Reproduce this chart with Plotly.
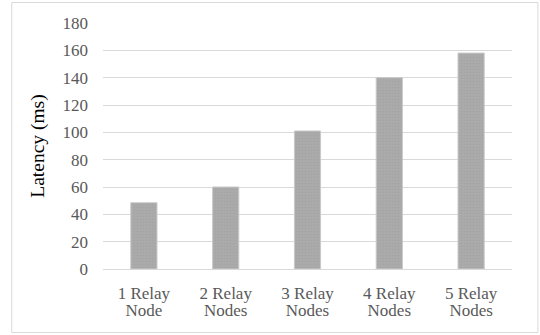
import plotly.graph_objects as go

categories = ["1 Relay Node", "2 Relay Nodes", "3 Relay Nodes", "4 Relay Nodes", "5 Relay Nodes"]
label_line1 = ["1 Relay", "2 Relay", "3 Relay", "4 Relay", "5 Relay"]
label_line2 = ["Node", "Nodes", "Nodes", "Nodes", "Nodes"]
latency_ms = [48.5, 60, 101, 140, 158]
y_ticks = [0, 20, 40, 60, 80, 100, 120, 140, 160, 180]

FONT = "Liberation Serif"
TICK_FONT = dict(family=FONT, size=17, color="#595959")

fig = go.Figure()
fig.add_trace(
    go.Bar(
        x=categories,
        y=latency_ms,
        marker=dict(
            color="#a6a6a6",
            line=dict(color="#c9c9c9", width=1),
            pattern=dict(shape=".", bgcolor="#aaaaaa", fgcolor="#9e9e9e", size=3, solidity=0.25),
        ),
        width=0.32,
        xaxis="x",
    )
)
# invisible twin so the second label row has an axis to live on
fig.add_trace(
    go.Bar(
        x=categories,
        y=latency_ms,
        opacity=0,
        hoverinfo="skip",
        width=0.32,
        xaxis="x2",
    )
)

# target plot area in window pixels: x 102.5..512.5, y 23..269
FW, FH = 540, 335
L, R, T, B = 102.5, 512.5, 23, 269

fig.update_layout(
    width=FW,
    height=FH,
    margin=dict(l=L, r=FW - R, t=T, b=FH - B, autoexpand=False),
    paper_bgcolor="white",
    plot_bgcolor="white",
    showlegend=False,
    barmode="overlay",
    font=dict(family=FONT, size=17, color="#595959"),
    xaxis=dict(
        type="category",
        categoryarray=categories,
        tickvals=categories,
        ticktext=label_line1,
        showgrid=False,
        showline=False,
        ticks="",
        ticklabelstandoff=12,
        tickfont=TICK_FONT,
    ),
    xaxis2=dict(
        type="category",
        categoryarray=categories,
        tickvals=categories,
        ticktext=label_line2,
        overlaying="x",
        matches="x",
        side="bottom",
        showgrid=False,
        showline=False,
        zeroline=False,
        ticks="",
        ticklabelstandoff=29,
        tickfont=TICK_FONT,
    ),
    yaxis=dict(
        range=[0, 180],
        tickvals=y_ticks,
        showgrid=True,
        gridcolor="#d9d9d9",
        gridwidth=1,
        zeroline=True,
        zerolinecolor="#d9d9d9",
        zerolinewidth=1,
        showline=False,
        ticks="",
        ticklabelstandoff=14,
        automargin=False,
        tickfont=TICK_FONT,
        title=dict(text="Latency (ms)", font=dict(family=FONT, size=19.5, color="black"), standoff=12),
    ),
    shapes=[
        dict(
            type="rect",
            xref="paper",
            yref="paper",
            x0=(11 - L) / (R - L),
            x1=(538.5 - L) / (R - L),
            y0=(B - 332.5) / (B - T),
            y1=(B - 2.5) / (B - T),
            line=dict(color="#d9d9d9", width=1),
            fillcolor="rgba(0,0,0,0)",
            layer="below",
        )
    ],
)

fig.write_html(
    "out.html",
    config={"displayModeBar": False},
    post_script="document.body.style.margin='0';document.body.style.overflow='hidden';",
)
